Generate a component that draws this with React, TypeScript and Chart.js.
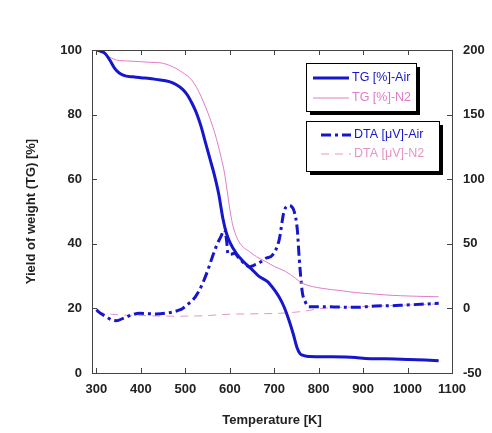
import React, { useEffect, useRef } from 'react';
import { Chart, registerables } from 'chart.js';

Chart.register(...registerables);

// ---- data ----
const tempTgAir = [300, 310, 319, 330, 341, 352, 367, 382, 400, 420, 434, 464, 479, 494, 505, 515, 525, 535, 545, 555, 565, 575, 585, 592, 600, 615, 630, 648, 665, 685, 700, 711, 722, 733, 743, 751, 758, 767, 778, 830, 883, 905, 950, 1002, 1040, 1070];
const tgAir = [100, 99.6, 99, 96.9, 94.3, 92.8, 91.9, 91.7, 91.4, 91.2, 90.9, 90.2, 89.3, 87.8, 86, 83.5, 80.5, 76.5, 71.5, 66.5, 61.5, 55.5, 47.5, 43.5, 40.5, 37, 34.6, 32.3, 30, 28.3, 25.8, 23.5, 20.5, 16.4, 12, 8, 6, 5.4, 5.1, 5.0, 4.8, 4.5, 4.4, 4.2, 4.0, 3.8];

const tempTgN2 = [300, 320, 345, 370, 397, 420, 449, 479, 494, 509, 520, 530, 540, 550, 560, 570, 580, 588, 594, 600, 606, 612, 620, 630, 644, 660, 681, 700, 726, 748, 763, 808, 850, 883, 920, 958, 1010, 1070];
const tgN2 = [100, 98.5, 96.9, 96.6, 96.4, 96.2, 95.9, 94.3, 93, 91.5, 89.6, 87.2, 84.2, 80.8, 77, 72.5, 67, 62, 56.5, 50.8, 46.2, 43.3, 40.8, 39, 37.6, 36, 34.5, 33, 31.4, 29.3, 27.8, 26.2, 25.5, 24.9, 24.5, 24.1, 23.8, 23.6];

const tempDtaAir = [300, 307, 320, 335, 345, 360, 380, 397, 434, 464, 487, 494, 505, 517, 528, 539, 550, 561, 572, 580, 588, 593, 596, 603, 610, 621, 636, 644, 655, 670, 681, 696, 711, 722, 733, 740, 745, 752, 756, 763, 770, 778, 808, 850, 883, 928, 960, 995, 1030, 1070];
const dtaAir = [-1, -3.3, -6, -9, -9.5, -7.7, -5, -3.8, -4.3, -3.3, -1.2, 0, 3, 6.5, 12, 19.4, 29, 40, 50, 55.5, 61, 52, 42, 42, 42.6, 38.8, 33.6, 32.3, 33.5, 36.1, 38.8, 41.3, 52.9, 75, 79.5, 78.5, 75, 60.7, 40, 13, 5, 1.3, 1.3, 1, 0.8, 1.9, 2, 2.6, 3.2, 3.9];

const tempDtaN2 = [300, 320, 350, 400, 450, 500, 550, 600, 650, 711, 760, 808, 870, 950, 1070];
const dtaN2 = [-3, -4, -5, -5.5, -6, -6, -5.5, -4.5, -4.2, -3.8, -2.5, 0, 1, 2, 3.5];

const xTickValues = [300, 400, 500, 600, 700, 800, 900, 1000, 1100];
const yLeftTickValues = [0, 20, 40, 60, 80, 100];
const yRightTickValues = [-50, 0, 50, 100, 150, 200];

const seriesLabels = ['TG [%]-Air', 'TG [%]-N2', 'DTA [μV]-Air', 'DTA [μV]-N2'];

const BLUE = '#1616cc';
const PINK = '#e27cc8';
const PINK_DASH = '#e595c4';
const FONT = "'Liberation Sans', Arial, sans-serif";

const toPoints = (xs: number[], ys: number[]) => xs.map((x, i) => ({ x, y: ys[i] }));

const framePlugin = {
  id: 'frameTicks',
  afterDatasetsDraw(chart: any) {
    const { ctx, chartArea: a, scales } = chart;
    ctx.save();
    ctx.strokeStyle = '#444';
    ctx.lineWidth = 1;
    ctx.strokeRect(Math.round(a.left) + 0.5, Math.round(a.top) + 0.5, Math.round(a.right - a.left), Math.round(a.bottom - a.top));
    const L = 5;
    ctx.beginPath();
    scales.x.ticks.forEach((t: any) => {
      const px = Math.round(scales.x.getPixelForValue(t.value)) + 0.5;
      ctx.moveTo(px, a.bottom);
      ctx.lineTo(px, a.bottom - L);
      ctx.moveTo(px, a.top);
      ctx.lineTo(px, a.top + L);
    });
    scales.y.ticks.forEach((t: any) => {
      const py = Math.round(scales.y.getPixelForValue(t.value)) + 0.5;
      ctx.moveTo(a.left, py);
      ctx.lineTo(a.left + L, py);
    });
    scales.y1.ticks.forEach((t: any) => {
      const py = Math.round(scales.y1.getPixelForValue(t.value)) + 0.5;
      ctx.moveTo(a.right, py);
      ctx.lineTo(a.right - L, py);
    });
    ctx.stroke();
    ctx.restore();
  },
};

const legendPlugin = {
  id: 'boxLegends',
  afterDraw(chart: any) {
    const { ctx } = chart;
    const ds = chart.data.datasets;
    const boxes = [
      { x: 306, y: 63, w: 110, h: 48, items: [0, 1], rows: [78, 98], lx0: 313, lx1: 349, tx: 352 },
      { x: 306, y: 121, w: 133, h: 50, items: [2, 3], rows: [135, 154], lx0: 321, lx1: 351, tx: 354 },
    ];
    ctx.save();
    boxes.forEach((b) => {
      ctx.fillStyle = '#000';
      ctx.fillRect(b.x + 4, b.y + 4, b.w, b.h);
      ctx.fillStyle = '#fff';
      ctx.fillRect(b.x, b.y, b.w, b.h);
      ctx.strokeStyle = '#000';
      ctx.lineWidth = 1;
      ctx.setLineDash([]);
      ctx.strokeRect(b.x + 0.5, b.y + 0.5, b.w, b.h);
      b.items.forEach((idx, r) => {
        const d = ds[idx];
        const y = b.rows[r];
        ctx.strokeStyle = d.borderColor;
        ctx.lineWidth = d.borderWidth;
        ctx.setLineDash(d.borderDash || []);
        ctx.beginPath();
        ctx.moveTo(b.lx0, y);
        ctx.lineTo(b.lx1, y);
        ctx.stroke();
        ctx.setLineDash([]);
        ctx.fillStyle = d.borderColor;
        ctx.font = `12.5px ${FONT}`;
        ctx.textBaseline = 'middle';
        ctx.textAlign = 'left';
        ctx.fillText(d.label, b.tx, y);
      });
    });
    ctx.restore();
  },
};

export default function App() {
  const ref = useRef<HTMLCanvasElement | null>(null);

  useEffect(() => {
    if (!ref.current) return;
    const tickFont = { family: FONT, size: 13, weight: 'bold' as const };
    const plainTick = (v: any) => String(v);
    const chart = new Chart(ref.current, {
      type: 'line',
      data: {
        datasets: [
          {
            label: seriesLabels[0],
            data: toPoints(tempTgAir, tgAir),
            borderColor: BLUE,
            borderWidth: 3,
            yAxisID: 'y',
          },
          {
            label: seriesLabels[1],
            data: toPoints(tempTgN2, tgN2),
            borderColor: PINK,
            borderWidth: 1,
            yAxisID: 'y',
          },
          {
            label: seriesLabels[2],
            data: toPoints(tempDtaAir, dtaAir),
            borderColor: BLUE,
            borderWidth: 3,
            borderDash: [10, 4, 3, 4],
            yAxisID: 'y1',
          },
          {
            label: seriesLabels[3],
            data: toPoints(tempDtaN2, dtaN2),
            borderColor: PINK_DASH,
            borderWidth: 1,
            borderDash: [8, 6],
            yAxisID: 'y1',
          },
        ],
      },
      options: {
        responsive: false,
        maintainAspectRatio: false,
        animation: false,
        layout: { padding: { top: 50, left: 0, right: 0, bottom: 0 } },
        elements: {
          point: { radius: 0, hoverRadius: 0 },
          line: { cubicInterpolationMode: 'monotone', fill: false },
        },
        plugins: {
          legend: { display: false },
          tooltip: { enabled: false },
        },
        scales: {
          x: {
            type: 'linear',
            min: 290,
            max: 1100,
            afterBuildTicks: (s: any) => {
              s.ticks = xTickValues.map((v) => ({ value: v }));
            },
            afterFit: (s: any) => {
              s.height = 60;
            },
            grid: { display: false, drawTicks: false },
            border: { display: false },
            ticks: { font: tickFont, color: '#222', padding: 9, maxRotation: 0, autoSkip: false, callback: plainTick },
            title: {
              display: true,
              text: 'Temperature [K]',
              font: { family: FONT, size: 13, weight: 'bold' },
              color: '#222',
              padding: { top: 0, bottom: 5 },
            },
          },
          y: {
            type: 'linear',
            position: 'left',
            min: 0,
            max: 100,
            afterBuildTicks: (s: any) => {
              s.ticks = yLeftTickValues.map((v) => ({ value: v }));
            },
            afterFit: (s: any) => {
              s.width = 92;
            },
            grid: { display: false, drawTicks: false },
            border: { display: false },
            ticks: { font: tickFont, color: '#222', padding: 10, callback: plainTick },
            title: {
              display: true,
              text: 'Yield of weight (TG) [%]',
              font: { family: FONT, size: 13, weight: 'bold' },
              color: '#222',
              padding: { top: 24, bottom: 0 },
            },
          },
          y1: {
            type: 'linear',
            position: 'right',
            min: -50,
            max: 200,
            afterBuildTicks: (s: any) => {
              s.ticks = yRightTickValues.map((v) => ({ value: v }));
            },
            afterFit: (s: any) => {
              s.width = 40;
            },
            grid: { display: false, drawTicks: false, drawOnChartArea: false },
            border: { display: false },
            ticks: { font: tickFont, color: '#222', padding: 11, callback: plainTick },
          },
        },
      },
      plugins: [framePlugin, legendPlugin],
    });
    return () => chart.destroy();
  }, []);

  return (
    <div style={{ position: 'absolute', left: 0, top: 0, width: 492, height: 433, background: '#fff' }}>
      <canvas ref={ref} width={492} height={433} style={{ display: 'block', width: 492, height: 433 }} />
    </div>
  );
}
